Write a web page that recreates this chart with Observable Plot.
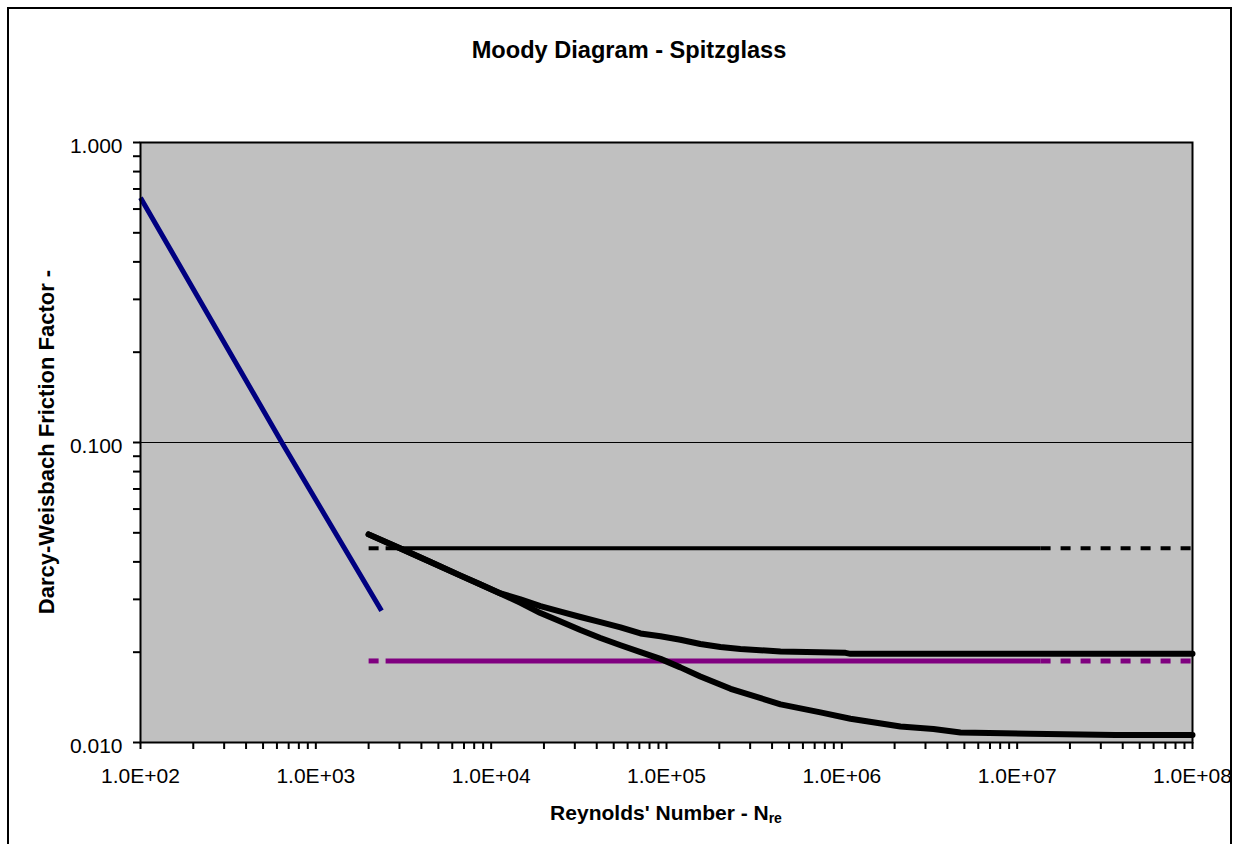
<!DOCTYPE html>
<html><head><meta charset="utf-8">
<script src="https://cdn.jsdelivr.net/npm/d3@7"></script>
<script src="https://cdn.jsdelivr.net/npm/@observablehq/plot@0.6"></script>
<style>
html,body{margin:0;padding:0;width:1235px;height:844px;overflow:hidden;background:#fff;}
#wrap{position:relative;width:1235px;height:844px;font-family:"Liberation Sans",Arial,sans-serif;color:#000;}
#chart{position:absolute;left:0;top:0;}
#border{position:absolute;left:7px;top:7px;width:1225px;height:900px;border:2px solid #000;box-sizing:border-box;pointer-events:none;}
.t{position:absolute;white-space:nowrap;font-weight:bold;}
#title{left:629px;top:39px;font-size:23.6px;line-height:23px;transform:translateX(-50%);}
#ytitle{left:47px;top:442px;font-size:22px;line-height:22px;transform:translate(-50%,-50%) rotate(-90deg);}
#xtitle{left:666px;top:802px;font-size:21px;line-height:21px;transform:translateX(-50%);}
#xtitle sub{font-size:14px;line-height:0;vertical-align:-3px;}
</style></head><body>
<div id="wrap">
<div id="chart"></div>
<div id="border"></div>
<div class="t" id="title">Moody Diagram - Spitzglass</div>
<div class="t" id="ytitle">Darcy-Weisbach Friction Factor -</div>
<div class="t" id="xtitle">Reynolds' Number - N<sub>re</sub></div>
</div>
<script>
// ---- data ----
const xMajorTicks = [1e2, 1e3, 1e4, 1e5, 1e6, 1e7, 1e8];
const xTickLabels = ["1.0E+02", "1.0E+03", "1.0E+04", "1.0E+05", "1.0E+06", "1.0E+07", "1.0E+08"];
const yMajorTicks = [0.01, 0.1, 1];
const yTickLabels = ["0.010", "0.100", "1.000"];

// laminar flow line
const laminarRe = [100, 646, 2370];
const laminarF = [0.655, 0.099, 0.0275];

// Spitzglass (black horizontal) line
const spitzRe = [2000, 2500, 13600000, 100000000];
const spitzF = [0.0444, 0.0444, 0.0444, 0.0444];

// purple horizontal line
const purpleRe = [2000, 2500, 13600000, 100000000];
const purpleF = [0.0187, 0.0187, 0.0187, 0.0187];

// upper curve
const upperRe = [2000, 3040, 4510, 6690, 8700, 11300, 14700, 19100, 24900, 32300, 42000, 54700, 71100, 92400, 120000, 156000, 203000, 264000, 447000, 1050000, 1120000, 100000000];
const upperF = [0.0494, 0.0443, 0.0400, 0.0360, 0.0336, 0.0314, 0.0300, 0.0285, 0.0273, 0.0262, 0.0252, 0.0242, 0.0231, 0.0226, 0.0220, 0.0213, 0.0208, 0.0205, 0.0201, 0.0199, 0.01975, 0.01975];

// lower curve
const lowerRe = [2000, 3040, 4510, 6690, 8700, 11300, 14700, 19100, 24900, 32300, 42000, 54700, 71100, 92400, 120000, 156000, 232000, 447000, 755000, 1120000, 2160000, 3330000, 4750000, 11900000, 36400000, 100000000];
const lowerF = [0.0494, 0.0443, 0.0400, 0.0360, 0.0336, 0.0314, 0.0292, 0.0270, 0.0253, 0.0237, 0.0223, 0.0211, 0.0200, 0.0190, 0.0178, 0.0166, 0.0151, 0.0134, 0.0126, 0.0120, 0.0113, 0.0111, 0.0108, 0.0107, 0.0106, 0.0106];

// ---- ticks ----
const multiples = [1, 2, 3, 4, 5, 6, 7, 8, 9];
const xAllTicks = xMajorTicks.slice(0, -1).flatMap(d => multiples.map(m => m * d)).concat([xMajorTicks[xMajorTicks.length - 1]]);
const yAllTicks = yMajorTicks.slice(0, -1).flatMap(d => multiples.map(m => +(m * d).toPrecision(3))).concat([yMajorTicks[yMajorTicks.length - 1]]);
const xLabel = d => xTickLabels[xMajorTicks.indexOf(d)];
const yLabel = d => yTickLabels[yMajorTicks.indexOf(d)];

function seg(re, f, i0, i1, opts) {
  const r = re.slice(i0, i1 + 1), v = f.slice(i0, i1 + 1);
  return Plot.line(r, {x: r, y: v, strokeLinecap: "butt", strokeLinejoin: "round", ...opts});
}

const dash = "10,10";

const chart = Plot.plot({
  width: 1235,
  height: 844,
  marginLeft: 140,
  marginRight: 43,
  marginTop: 142,
  marginBottom: 102,
  style: {background: "transparent", color: "#000", fontFamily: "'Liberation Sans', Arial, sans-serif", fontSize: "21px", overflow: "visible"},
  x: {type: "log", domain: [1e2, 1e8]},
  y: {type: "log", domain: [0.01, 1]},
  marks: [
    Plot.frame({fill: "#c0c0c0", stroke: null}),
    Plot.ruleY([0.1], {stroke: "#000", strokeWidth: 1}),
    // laminar
    Plot.line(laminarRe, {x: laminarRe, y: laminarF, stroke: "#000080", strokeWidth: 5, strokeLinecap: "butt"}),
    // purple line
    seg(purpleRe, purpleF, 0, 1, {stroke: "#800080", strokeWidth: 5, strokeDasharray: dash}),
    seg(purpleRe, purpleF, 1, 2, {stroke: "#800080", strokeWidth: 5}),
    seg(purpleRe, purpleF, 2, 3, {stroke: "#800080", strokeWidth: 5, strokeDasharray: dash}),
    // black curves
    Plot.line(upperRe, {x: upperRe, y: upperF, stroke: "#000", strokeWidth: 6, strokeLinejoin: "round"}),
    Plot.line(lowerRe, {x: lowerRe, y: lowerF, stroke: "#000", strokeWidth: 6, strokeLinejoin: "round"}),
    // Spitzglass line
    seg(spitzRe, spitzF, 0, 1, {stroke: "#000", strokeWidth: 4, strokeDasharray: dash}),
    seg(spitzRe, spitzF, 1, 2, {stroke: "#000", strokeWidth: 4}),
    seg(spitzRe, spitzF, 2, 3, {stroke: "#000", strokeWidth: 4, strokeDasharray: dash}),
    Plot.frame({stroke: "#000", strokeWidth: 2}),
    // axes: ticks
    Plot.axisX({ticks: xAllTicks, tickSize: 7, strokeWidth: 2, fill: "none", label: null}),
    Plot.axisY({ticks: yAllTicks, tickSize: 7, strokeWidth: 2, fill: "none", label: null}),
    // axes: labels
    Plot.axisX({ticks: xMajorTicks, tickSize: 0, tickPadding: 26, tickFormat: xLabel, label: null, fill: "#000"}),
    Plot.axisY({ticks: yMajorTicks, tickSize: 0, tickPadding: 18, tickFormat: yLabel, label: null, fill: "#000", dy: 4})
  ]
});
document.getElementById("chart").appendChild(chart);
</script>
</body></html>
